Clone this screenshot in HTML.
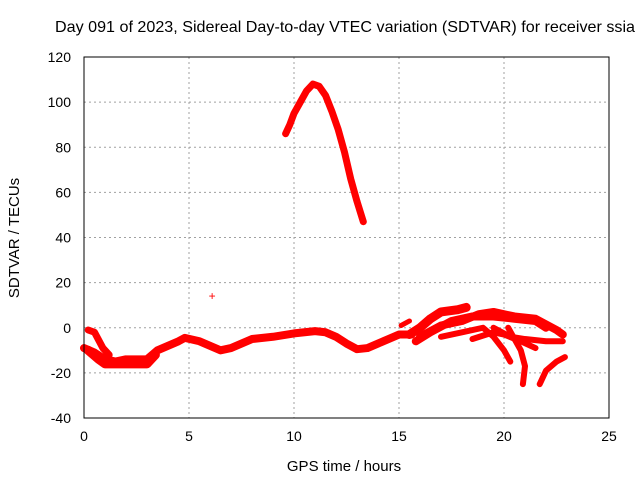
<!DOCTYPE html>
<html><head><meta charset="utf-8"><style>
body{margin:0;background:#fff;}
svg{display:block;font-family:"Liberation Sans",sans-serif;}
</style></head><body>
<svg id="chart" width="640" height="480">
<text x="345" y="32" font-size="16" text-anchor="middle" textLength="580" lengthAdjust="spacingAndGlyphs">Day 091 of 2023, Sidereal Day-to-day VTEC variation (SDTVAR) for receiver ssia</text>
<text x="344" y="471" font-size="15" text-anchor="middle">GPS time / hours</text>
<text transform="translate(19,238) rotate(-90)" font-size="15" text-anchor="middle">SDTVAR / TECUs</text>
<g id="grid"></g><g id="ticks"></g><g id="marks"></g>
<rect x="84" y="57" width="525" height="361" fill="none" stroke="#000" stroke-width="1"/>
</svg>
<script>
const xTicks=[0,5,10,15,20,25];
const yTicks=[-40,-20,0,20,40,60,80,100,120];
const seriesBase=[[0,-9],[0.5,-11],[1,-14],[1.5,-15],[2,-14],[2.5,-14],[3,-14],[3.5,-10],[4,-8],[4.5,-6],[4.8,-4.5],[5.5,-6],[6,-8],[6.5,-10],[7,-9],[7.5,-7],[8,-5],[9,-4],[10,-2.5],[11,-1.5],[11.5,-2],[12,-4],[12.5,-7],[13,-9.5],[13.5,-9],[14,-7],[14.5,-5],[15,-3],[15.6,-3]];
const seriesLow=[[0.2,-10],[0.7,-14],[1,-16],[2,-16],[3,-16],[3.4,-12]];
const seriesHump=[[0.2,-1],[0.5,-2],[0.9,-9],[1.2,-12]];
const seriesArc=[[9.6,86],[9.8,90],[10,95],[10.3,100],[10.6,105],[10.9,108],[11.2,107],[11.5,103],[11.8,96],[12.1,88],[12.4,78],[12.7,66],[13,56],[13.3,47]];
const seriesA=[[15.1,1],[15.5,3]];
const seriesB=[[15.5,-3],[16,0],[16.5,4],[17,7],[17.8,8],[18.2,9]];
const seriesC=[[15.8,-6],[16.5,-2],[17.5,3],[18.5,5],[19.5,5],[20.5,4],[21.5,3],[22,0]];
const seriesD=[[16,-4],[17,1],[18,3],[18.8,6],[19.5,7],[20.5,5],[21.5,4],[22.5,-1],[22.8,-3]];
const seriesE=[[17,-4],[18,-2],[19,0],[19.5,-4],[20,-10],[20.3,-15]];
const seriesF=[[18.5,-5],[19.5,-2],[20,-3],[20.8,-6],[21.5,-9]];
const seriesG=[[19.5,0],[20.3,-4],[21,-5],[22,-6],[22.8,-6]];
const seriesH=[[20.2,0],[20.8,-10],[21,-17],[20.9,-25]];
const seriesI=[[21.7,-25],[22,-19],[22.5,-15],[22.9,-13]];
const outlier=[[6.1,14]];
const X=h=>84+h*21, Y=v=>57+(120-v)*(361/160);
const NS="http://www.w3.org/2000/svg";
const mk=(t,a,p)=>{const e=document.createElementNS(NS,t);for(const k in a)e.setAttribute(k,a[k]);p.appendChild(e);return e;};
const grid=document.getElementById('grid'),ticks=document.getElementById('ticks'),marks=document.getElementById('marks');
xTicks.forEach(t=>{
 if(t>0&&t<25){const g=mk('line',{x1:X(t),x2:X(t),y1:57,y2:418,stroke:'#a0a0a0','stroke-dasharray':'2,3'},grid);
 
 }
 const l=mk('text',{x:X(t),y:441,'font-size':14,'text-anchor':'middle'},ticks);l.textContent=t;
 
 
});
yTicks.forEach(t=>{
 if(t>-40&&t<120){const g=mk('line',{x1:84,x2:609,y1:Y(t),y2:Y(t),stroke:'#a0a0a0','stroke-dasharray':'2,3'},grid);
 
 }
 const l=mk('text',{x:71,y:Y(t)+5,'font-size':14,'text-anchor':'end'},ticks);l.textContent=t;
 
 
});
const all=[[seriesBase,8],[seriesLow,9],[seriesHump,7],[seriesArc,7],[seriesA,5],[seriesB,9],[seriesC,8],[seriesD,8],[seriesE,6],[seriesF,6],[seriesG,6],[seriesH,6],[seriesI,6]];
all.forEach(([s,w])=>{
 const p=mk('polyline',{points:s.map(d=>X(d[0])+','+Y(d[1])).join(' '),fill:'none',stroke:'#f00','stroke-width':w,'stroke-linejoin':'round','stroke-linecap':'round'},marks);
 
 
});
outlier.forEach(d=>{
 const t=mk('text',{x:X(d[0]),y:Y(d[1])+4,'font-size':12,'text-anchor':'middle',fill:'#f00'},marks);t.textContent='+';
 
 
});
</script>
</body></html>
